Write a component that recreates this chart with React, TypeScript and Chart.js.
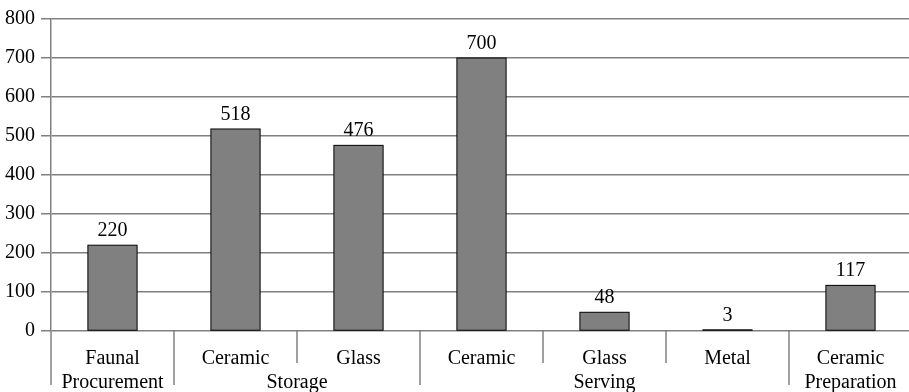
import React, { useEffect, useRef } from "react";
import { Chart, registerables } from "chart.js";

Chart.register(...registerables);

const categoryLabels: string[][] = [
  ["Faunal", "Procurement"],
  ["Ceramic"],
  ["Glass"],
  ["Ceramic"],
  ["Glass"],
  ["Metal"],
  ["Ceramic", "Preparation"],
];
const groupLabels: string[] = ["", "Storage", "Storage", "Serving", "Serving", "Serving", ""];
const values: number[] = [220, 518, 476, 700, 48, 3, 117];
const yTicks: number[] = [0, 100, 200, 300, 400, 500, 600, 700, 800];

const FONT = '"Liberation Serif", "Times New Roman", serif';
const FONT_SIZE = 20;
const LINE = "#808080";

const labelsPlugin = {
  id: "customLabels",
  afterDatasetsDraw(chart: any) {
    const ctx = chart.ctx;
    const meta = chart.getDatasetMeta(0);
    ctx.save();
    // bar outlines
    ctx.strokeStyle = "#000";
    ctx.lineWidth = 1;
    meta.data.forEach((bar: any) => {
      const p = bar.getProps(["x", "y", "base", "width"], true);
      ctx.strokeRect(p.x - p.width / 2, p.y, p.width, p.base - p.y);
    });
    ctx.fillStyle = "#000";
    ctx.font = `${FONT_SIZE}px ${FONT}`;
    ctx.textAlign = "center";
    ctx.textBaseline = "alphabetic";
    meta.data.forEach((bar: any, i: number) => {
      ctx.fillText(String(values[i]), bar.x, bar.y - 9);
    });
    ctx.restore();
  },
  afterDraw(chart: any) {
    const ctx = chart.ctx;
    const xs = chart.scales.x;
    const area = chart.chartArea;
    const bottom = area.bottom;
    const n = categoryLabels.length;
    ctx.save();
    ctx.strokeStyle = LINE;
    ctx.lineWidth = 1.5;
    const drawSep = (x: number, tall: boolean) => {
      ctx.beginPath();
      ctx.moveTo(x, bottom);
      ctx.lineTo(x, bottom + (tall ? 54 : 32));
      ctx.stroke();
    };
    drawSep(area.left, true);
    for (let i = 0; i < n - 1; i++) {
      const x = (xs.getPixelForValue(i) + xs.getPixelForValue(i + 1)) / 2;
      const tall = groupLabels[i] !== groupLabels[i + 1] || groupLabels[i] === "";
      drawSep(x, tall);
    }
    drawSep(area.right, true);
    ctx.fillStyle = "#000";
    ctx.font = `${FONT_SIZE}px ${FONT}`;
    ctx.textAlign = "center";
    ctx.textBaseline = "alphabetic";
    categoryLabels.forEach((lines, i) => {
      const x = xs.getPixelForValue(i);
      lines.forEach((t, j) => {
        ctx.fillText(t, x, bottom + 33 + j * 24);
      });
    });
    let i = 0;
    while (i < n) {
      let j = i;
      while (j + 1 < n && groupLabels[j + 1] === groupLabels[i]) j++;
      if (groupLabels[i]) {
        const x = (xs.getPixelForValue(i) + xs.getPixelForValue(j)) / 2;
        ctx.fillText(groupLabels[i], x, bottom + 57);
      }
      i = j + 1;
    }
    ctx.restore();
  },
};

export default function App() {
  const ref = useRef<HTMLCanvasElement | null>(null);
  useEffect(() => {
    if (!ref.current) return;
    const chart = new Chart(ref.current, {
      type: "bar",
      data: {
        labels: categoryLabels.map((l) => l.join(" ")),
        datasets: [
          {
            data: values,
            backgroundColor: "#808080",
            borderWidth: 0,
            barPercentage: 0.4,
            categoryPercentage: 1.0,
          },
        ],
      },
      options: {
        animation: false,
        responsive: true,
        maintainAspectRatio: false,
        layout: { padding: { top: 19, bottom: 61, left: 0, right: 0 } },
        plugins: { legend: { display: false }, tooltip: { enabled: false } },
        scales: {
          x: { display: false, offset: true },
          y: {
            min: 0,
            max: 800,
            afterBuildTicks: (scale: any) => {
              scale.ticks = yTicks.map((v) => ({ value: v }));
            },
            afterFit: (scale: any) => {
              scale.width = 51;
            },
            ticks: {
              color: "#000",
              font: { family: FONT, size: FONT_SIZE },
              padding: 6,
            },
            grid: { color: LINE, lineWidth: 1.5, tickLength: 10, drawTicks: true },
            border: { display: true, color: LINE, width: 1.5 },
          },
        },
      },
      plugins: [labelsPlugin],
    });
    return () => chart.destroy();
  }, []);
  return (
    <div style={{ position: "fixed", left: 0, top: 0, width: 909, height: 392, overflow: "hidden", background: "#fff" }}>
      <div style={{ position: "relative", width: 912, height: 392 }}>
        <canvas ref={ref} />
      </div>
    </div>
  );
}
